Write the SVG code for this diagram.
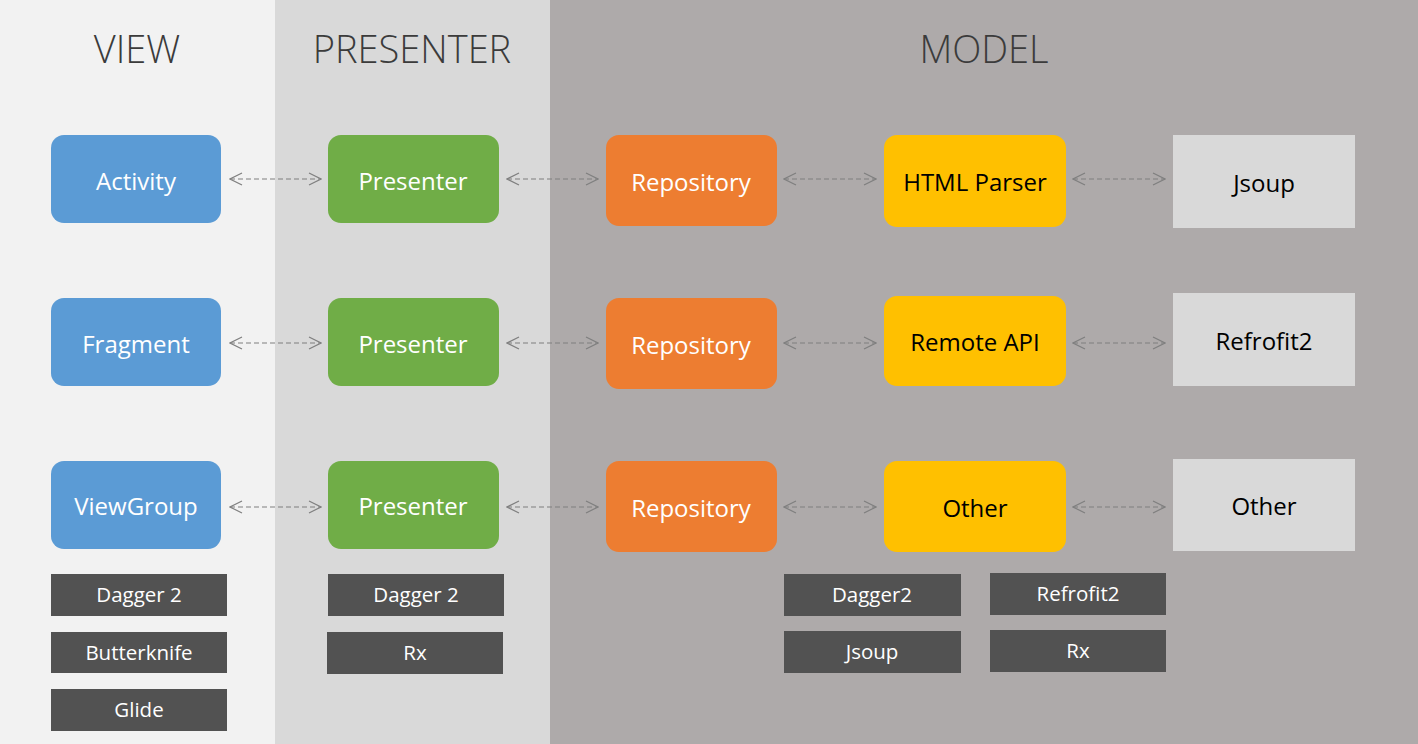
<svg xmlns="http://www.w3.org/2000/svg" width="1418" height="744" viewBox="0 0 1418 744">
<style>
.title{font-family:"Open Sans","Noto Sans",sans-serif;font-weight:300;font-size:38px;fill:#3b3b3b;text-anchor:middle}
.lbl{font-family:"Open Sans","Noto Sans",sans-serif;font-size:24px;text-anchor:middle;dominant-baseline:central}
.w{fill:#ffffff}.k{fill:#000000}
.sm{font-family:"Open Sans","Noto Sans",sans-serif;font-size:20.5px;fill:#ffffff;text-anchor:middle;dominant-baseline:central}
.blue{fill:#5b9bd5}.green{fill:#70ad47}.orange{fill:#ed7d31}.yellow{fill:#ffc000}.gray{fill:#d9d9d9}.dark{fill:#525252}
.conn{stroke:#7f7f7f;stroke-width:1.2;stroke-dasharray:5,3;fill:none;marker-start:url(#a);marker-end:url(#a)}
</style>
<defs>
<marker id="a" viewBox="0 0 14 14" refX="13" refY="7" markerWidth="14" markerHeight="14" markerUnits="userSpaceOnUse" orient="auto-start-reverse">
<path d="M1,1 L13,7 L1,13" fill="none" stroke="#7f7f7f" stroke-width="1.2"/>
</marker>
</defs>
<rect x="0" y="0" width="275" height="744" fill="#f2f2f2"/>
<rect x="275" y="0" width="275" height="744" fill="#d9d9d9"/>
<rect x="550" y="0" width="868" height="744" fill="#aeaaaa"/>
<text class="title" x="137" y="63">VIEW</text>
<text class="title" x="412" y="63">PRESENTER</text>
<text class="title" x="984" y="63">MODEL</text>

<g id="connectors">
<line class="conn" x1="230" y1="179" x2="321" y2="179"/>
<line class="conn" x1="507" y1="179" x2="598" y2="179"/>
<line class="conn" x1="784" y1="179" x2="876" y2="179"/>
<line class="conn" x1="1073" y1="179" x2="1165" y2="179"/>
<line class="conn" x1="230" y1="343" x2="321" y2="343"/>
<line class="conn" x1="507" y1="343" x2="598" y2="343"/>
<line class="conn" x1="784" y1="343" x2="876" y2="343"/>
<line class="conn" x1="1073" y1="343" x2="1165" y2="343"/>
<line class="conn" x1="230" y1="507" x2="321" y2="507"/>
<line class="conn" x1="507" y1="507" x2="598" y2="507"/>
<line class="conn" x1="784" y1="507" x2="876" y2="507"/>
<line class="conn" x1="1073" y1="507" x2="1165" y2="507"/>
</g>

<g id="activity"><rect class="blue" x="51" y="135" width="170" height="88" rx="13"/><text class="lbl w" x="136" y="180">Activity</text></g>
<g id="fragment"><rect class="blue" x="51" y="298" width="170" height="88" rx="13"/><text class="lbl w" x="136" y="343">Fragment</text></g>
<g id="viewgroup"><rect class="blue" x="51" y="461" width="170" height="88" rx="13"/><text class="lbl w" x="136" y="505">ViewGroup</text></g>

<g id="presenter1"><rect class="green" x="328" y="135" width="171" height="88" rx="13"/><text class="lbl w" x="413" y="180">Presenter</text></g>
<g id="presenter2"><rect class="green" x="328" y="298" width="171" height="88" rx="13"/><text class="lbl w" x="413" y="343">Presenter</text></g>
<g id="presenter3"><rect class="green" x="328" y="461" width="171" height="88" rx="13"/><text class="lbl w" x="413" y="505">Presenter</text></g>

<g id="repository1"><rect class="orange" x="606" y="135" width="171" height="91" rx="13"/><text class="lbl w" x="691" y="181">Repository</text></g>
<g id="repository2"><rect class="orange" x="606" y="298" width="171" height="91" rx="13"/><text class="lbl w" x="691" y="344">Repository</text></g>
<g id="repository3"><rect class="orange" x="606" y="461" width="171" height="91" rx="13"/><text class="lbl w" x="691" y="507">Repository</text></g>

<g id="htmlparser"><rect class="yellow" x="884" y="135" width="182" height="92" rx="13"/><text class="lbl k" x="975" y="181">HTML Parser</text></g>
<g id="remoteapi"><rect class="yellow" x="884" y="296" width="182" height="90" rx="13"/><text class="lbl k" x="975" y="341">Remote API</text></g>
<g id="other1"><rect class="yellow" x="884" y="461" width="182" height="91" rx="13"/><text class="lbl k" x="975" y="507">Other</text></g>

<g id="jsoup"><rect class="gray" x="1173" y="135" width="182" height="93"/><text class="lbl k" x="1264" y="182">Jsoup</text></g>
<g id="refrofit2"><rect class="gray" x="1173" y="293" width="182" height="93"/><text class="lbl k" x="1264" y="340">Refrofit2</text></g>
<g id="other2"><rect class="gray" x="1173" y="459" width="182" height="92"/><text class="lbl k" x="1264" y="505">Other</text></g>

<g id="view-dagger"><rect class="dark" x="51" y="574" width="176" height="42"/><text class="sm" x="139" y="594">Dagger 2</text></g>
<g id="view-butterknife"><rect class="dark" x="51" y="632" width="176" height="41"/><text class="sm" x="139" y="652">Butterknife</text></g>
<g id="view-glide"><rect class="dark" x="51" y="689" width="176" height="42"/><text class="sm" x="139" y="709">Glide</text></g>

<g id="presenter-dagger"><rect class="dark" x="328" y="574" width="176" height="42"/><text class="sm" x="416" y="594">Dagger 2</text></g>
<g id="presenter-rx"><rect class="dark" x="327" y="632" width="176" height="42"/><text class="sm" x="415" y="652">Rx</text></g>

<g id="model-dagger"><rect class="dark" x="784" y="574" width="177" height="42"/><text class="sm" x="872" y="594">Dagger2</text></g>
<g id="model-jsoup"><rect class="dark" x="784" y="631" width="177" height="42"/><text class="sm" x="872" y="651">Jsoup</text></g>
<g id="model-refrofit2"><rect class="dark" x="990" y="573" width="176" height="42"/><text class="sm" x="1078" y="593">Refrofit2</text></g>
<g id="model-rx"><rect class="dark" x="990" y="630" width="176" height="42"/><text class="sm" x="1078" y="650">Rx</text></g>
</svg>
